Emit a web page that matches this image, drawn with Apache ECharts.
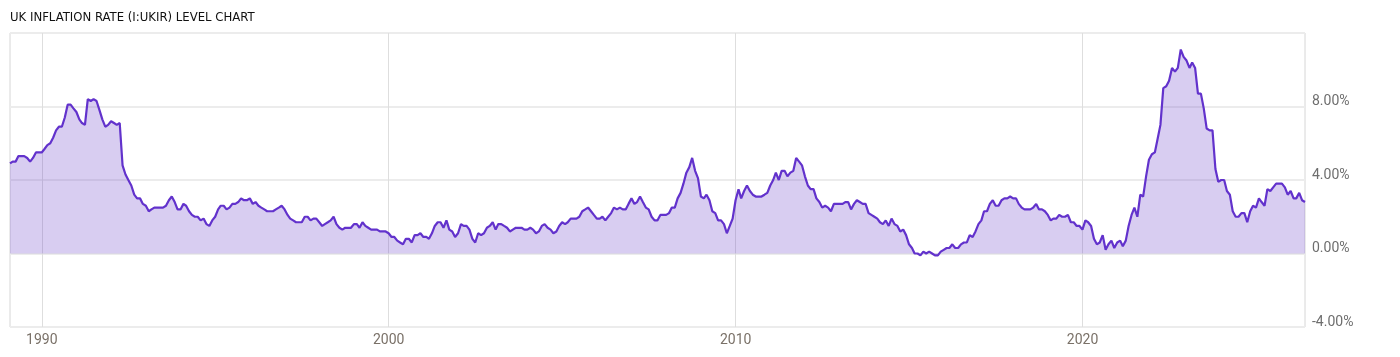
<!DOCTYPE html>
<html>
<head>
<meta charset="utf-8">
<script src="https://cdn.jsdelivr.net/npm/echarts@6/dist/echarts.min.js"></script>
<style>
  html, body { margin: 0; padding: 0; background: #ffffff; }
  #chart { width: 1400px; height: 357px; }
</style>
</head>
<body>
<div id="chart"></div>
<script>
// Monthly UK inflation rate (%), starting January 1989
const firstYear = 1989;
const firstMonth = 1;
const cpi1989to1999 = [
  4.9, 5.0, 5.0, 5.3, 5.3, 5.3, 5.2, 5.0, 5.2, 5.5, 5.5, 5.5,
  5.7, 5.9, 6.0, 6.3, 6.7, 6.9, 6.9, 7.4, 8.1, 8.1, 7.9, 7.7,
  7.3, 7.1, 7.0, 8.4, 8.3, 8.4, 8.3, 7.8, 7.3, 6.9, 7.0, 7.2,
  7.1, 7.0, 7.1, 4.8, 4.3, 4.0, 3.7, 3.2, 3.0, 3.0, 2.7, 2.6,
  2.3, 2.4, 2.5, 2.5, 2.5, 2.5, 2.6, 2.9, 3.1, 2.8, 2.4, 2.4,
  2.7, 2.6, 2.3, 2.1, 2.0, 2.0, 1.8, 1.9, 1.6, 1.5, 1.8, 2.0,
  2.4, 2.6, 2.6, 2.4, 2.5, 2.7, 2.7, 2.8, 3.0, 2.9, 2.9, 3.0,
  2.7, 2.8, 2.6, 2.5, 2.4, 2.3, 2.3, 2.3, 2.4, 2.5, 2.6, 2.4,
  2.1, 1.9, 1.8, 1.7, 1.7, 1.7, 2.0, 2.0, 1.8, 1.9, 1.9, 1.7,
  1.5, 1.6, 1.7, 1.8, 2.0, 1.6, 1.4, 1.3, 1.4, 1.4, 1.4, 1.6,
  1.6, 1.4, 1.7, 1.5, 1.4, 1.3, 1.3, 1.3, 1.2, 1.2, 1.2, 1.1
];
const cpi2000to2009 = [
  0.9, 0.9, 0.7, 0.6, 0.5, 0.8, 0.8, 0.6, 1.0, 1.0, 1.1, 0.9,
  0.9, 0.8, 1.1, 1.5, 1.7, 1.7, 1.4, 1.8, 1.3, 1.2, 0.9, 1.1,
  1.6, 1.5, 1.5, 1.3, 0.8, 0.6, 1.1, 1.0, 1.1, 1.4, 1.5, 1.7,
  1.3, 1.6, 1.6, 1.5, 1.4, 1.2, 1.3, 1.4, 1.4, 1.4, 1.3, 1.3,
  1.4, 1.3, 1.1, 1.2, 1.5, 1.6, 1.4, 1.3, 1.1, 1.2, 1.5, 1.7,
  1.6, 1.7, 1.9, 1.9, 1.9, 2.0, 2.3, 2.4, 2.5, 2.3, 2.1, 1.9,
  1.9, 2.0, 1.8, 2.0, 2.2, 2.5, 2.4, 2.5, 2.4, 2.4, 2.7, 3.0,
  2.7, 2.8, 3.1, 2.8, 2.5, 2.4, 2.0, 1.8, 1.8, 2.1, 2.1, 2.1,
  2.2, 2.5, 2.5, 3.0, 3.3, 3.8, 4.4, 4.7, 5.2, 4.5, 4.1, 3.1,
  3.0, 3.2, 2.9, 2.3, 2.2, 1.8, 1.8, 1.6, 1.1, 1.5, 1.9, 2.9
];
const cpi2010to2019 = [
  3.5, 3.0, 3.4, 3.7, 3.4, 3.2, 3.1, 3.1, 3.1, 3.2, 3.3, 3.7,
  4.0, 4.4, 4.0, 4.5, 4.5, 4.2, 4.4, 4.5, 5.2, 5.0, 4.8, 4.2,
  3.7, 3.5, 3.5, 3.0, 2.8, 2.5, 2.6, 2.5, 2.3, 2.7, 2.7, 2.7,
  2.7, 2.8, 2.8, 2.4, 2.7, 2.9, 2.8, 2.7, 2.7, 2.2, 2.1, 2.0,
  1.9, 1.7, 1.6, 1.8, 1.5, 1.9, 1.6, 1.5, 1.2, 1.3, 1.0, 0.5,
  0.3, 0.0, 0.0, -0.1, 0.1, 0.0, 0.1, 0.0, -0.1, -0.1, 0.1, 0.2,
  0.3, 0.3, 0.5, 0.3, 0.3, 0.5, 0.6, 0.6, 1.0, 0.9, 1.2, 1.6,
  1.8, 2.3, 2.3, 2.7, 2.9, 2.6, 2.6, 2.9, 3.0, 3.0, 3.1, 3.0,
  3.0, 2.7, 2.5, 2.4, 2.4, 2.4, 2.5, 2.7, 2.4, 2.4, 2.3, 2.1,
  1.8, 1.9, 1.9, 2.1, 2.0, 2.0, 2.1, 1.7, 1.7, 1.5, 1.5, 1.3
];
const cpi2020to2026 = [
  1.8, 1.7, 1.5, 0.8, 0.5, 0.6, 1.0, 0.2, 0.5, 0.7, 0.3, 0.6,
  0.7, 0.4, 0.7, 1.5, 2.1, 2.5, 2.0, 3.2, 3.1, 4.2, 5.1, 5.4,
  5.5, 6.2, 7.0, 9.0, 9.1, 9.4, 10.1, 9.9, 10.1, 11.1, 10.7, 10.5,
  10.1, 10.4, 10.1, 8.7, 8.7, 7.9, 6.8, 6.7, 6.7, 4.6, 3.9, 4.0,
  4.0, 3.4, 3.2, 2.3, 2.0, 2.0, 2.2, 2.2, 1.7, 2.3, 2.6, 2.5,
  3.0, 2.8, 2.6, 3.5, 3.4, 3.6, 3.8, 3.8, 3.8, 3.6, 3.2, 3.4,
  3.0, 3.0, 3.3, 2.9, 2.8
];
const xTickYears = [1990, 2000, 2010, 2020];
const yTicks = [-4, 0, 4, 8, 12];
const titleText = 'UK INFLATION RATE (I:UKIR) LEVEL CHART';

// Build [timestamp, value] pairs; each month is stamped at its last day
const allValues = cpi1989to1999.concat(cpi2000to2009, cpi2010to2019, cpi2020to2026);
const seriesData = allValues.map((v, i) => [Date.UTC(firstYear, firstMonth - 1 + i + 1, 0), v]);
const xTickValues = xTickYears.map(y => Date.UTC(y, 0, 1));

const chart = echarts.init(document.getElementById('chart'), null, { renderer: 'canvas' });
chart.setOption({
  animation: false,
  backgroundColor: '#ffffff',
  title: {
    text: titleText,
    left: 5,
    top: 6,
    textStyle: {
      fontFamily: '"Liberation Sans Narrow", "DejaVu Sans Condensed", sans-serif',
      fontSize: 13,
      fontWeight: 'normal',
      color: '#111111'
    }
  },
  grid: {
    left: 10,
    right: 95,
    top: 33,
    bottom: 30,
    containLabel: false,
    outerBoundsMode: 'none',
    show: true,
    borderColor: '#d6d6d6',
    borderWidth: 1,
    backgroundColor: 'transparent'
  },
  xAxis: {
    type: 'value',
    min: seriesData[0][0],
    max: seriesData[seriesData.length - 1][0],
    scale: true,
    axisLine: { show: false },
    axisTick: { show: false, customValues: xTickValues },
    splitLine: { show: true, lineStyle: { color: '#dedede', width: 1 } },
    axisLabel: {
      customValues: xTickValues,
      formatter: function (v) { return String(new Date(v).getUTCFullYear()); },
      color: '#7a7168',
      fontFamily: 'Roboto, sans-serif',
      fontSize: 14,
      margin: 6
    }
  },
  yAxis: {
    type: 'value',
    position: 'right',
    min: yTicks[0],
    max: yTicks[yTicks.length - 1],
    interval: 4,
    axisLine: { show: false },
    axisTick: { show: false },
    splitLine: { show: true, lineStyle: { color: '#ececec', width: 2 } },
    axisLabel: {
      showMaxLabel: false,
      formatter: function (v) { return v.toFixed(2) + '%'; },
      color: '#6e6e6e',
      fontFamily: 'Roboto, sans-serif',
      fontSize: 14,
      lineHeight: 14,
      verticalAlign: 'bottom',
      margin: 7,
      padding: [0, 0, -2, 0]
    }
  },
  series: [{
    type: 'line',
    data: seriesData,
    showSymbol: false,
    symbol: 'none',
    lineStyle: { color: '#6232cc', width: 2.2 },
    itemStyle: { color: '#6232cc' },
    areaStyle: { color: '#6a3fc8', opacity: 0.26 }
  }]
});
</script>
</body>
</html>
